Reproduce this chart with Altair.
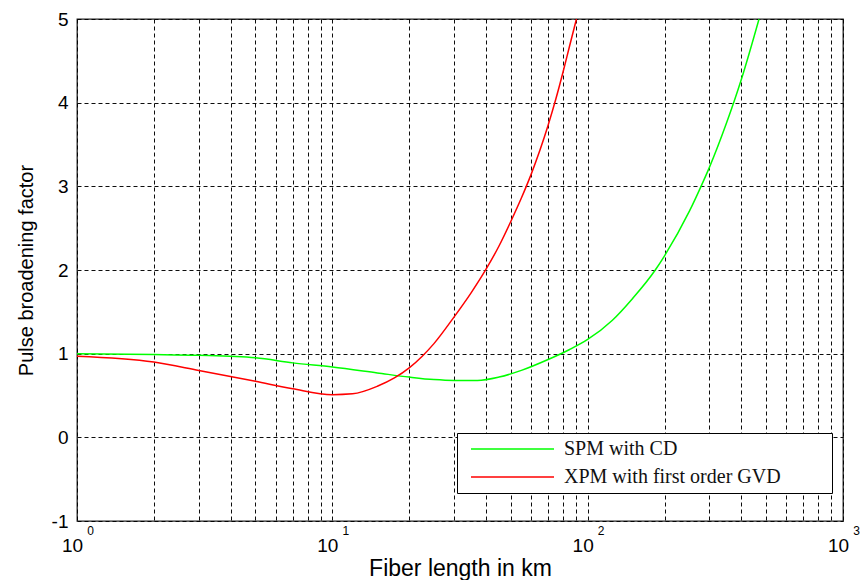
import altair as alt
import pandas as pd

# SPM with CD (green)
spm_x = [1, 2, 3, 5, 7, 10, 15, 20, 25, 30, 37, 45, 55, 70, 85, 100, 125, 150, 184, 200, 250, 278, 300, 350, 375, 400, 469]
spm_y = [1.0, 0.99, 0.98, 0.95, 0.89, 0.84, 0.77, 0.72, 0.69, 0.68, 0.68, 0.72, 0.8, 0.93, 1.05, 1.17, 1.4, 1.66, 2.0, 2.17, 2.7, 3.0, 3.23, 3.76, 4.02, 4.28, 5.0]

# XPM with first order GVD (red)
xpm_x = [1, 2, 3, 5, 7, 10, 12, 15, 17.5, 20, 22.5, 25, 30, 35, 40, 45, 50, 55, 60, 65, 70, 75, 80, 85, 90.4]
xpm_y = [0.97, 0.9, 0.8, 0.67, 0.58, 0.51, 0.52, 0.61, 0.71, 0.83, 0.97, 1.12, 1.44, 1.73, 2.01, 2.29, 2.58, 2.86, 3.14, 3.43, 3.73, 4.04, 4.36, 4.68, 5.0]

series_names = ["SPM with CD", "XPM with first order GVD"]
series_colors = ["#00ff00", "#ff0000"]

x_ticks = [m * 10 ** k for k in range(3) for m in range(1, 10)] + [1000]
x_decades = [1, 10, 100, 1000]
y_ticks = [-1, 0, 1, 2, 3, 4, 5]

df = pd.concat([
    pd.DataFrame({"x": spm_x, "y": spm_y, "series": series_names[0]}),
    pd.DataFrame({"x": xpm_x, "y": xpm_y, "series": series_names[1]}),
])

xscale = alt.Scale(type="log", domain=[1, 1000], nice=False)
yscale = alt.Scale(domain=[-1, 5], nice=False)

main_x_axis = alt.Axis(
    values=x_ticks,
    labelExpr="(datum.value == 1 || datum.value == 10 || datum.value == 100 || datum.value == 1000) ? '10' : ''",
    labelOverlap=False, labelFlush=False,
    labelFont="Liberation Sans", labelFontSize=19, labelColor="#000",
    labelOffset=-5, labelPadding=15, labelBaseline="top",
    ticks=False, domain=False,
    grid=True, gridColor="#000", gridDash=[4, 3], gridWidth=1, gridOpacity=0.95,
    title="Fiber length in km", titleFont="Liberation Sans", titleFontSize=23,
    titleFontWeight="normal", titleColor="#000", titlePadding=2,
    orient="bottom",
)

exp_x_axis = alt.Axis(
    values=x_decades,
    labelExpr="format(log(datum.value) / log(10), '.0f')",
    labelOverlap=False, labelFlush=False,
    labelFont="Liberation Sans", labelFontSize=12, labelColor="#000",
    labelOffset=13, labelPadding=4, labelBaseline="top",
    ticks=False, domain=False, grid=False, title=None, orient="bottom",
)

y_axis = alt.Axis(
    values=y_ticks,
    labelExpr="datum.value < 0 ? '-' + format(abs(datum.value), 'd') : format(datum.value, 'd')",
    labelFont="Liberation Sans", labelFontSize=19, labelColor="#000",
    labelPadding=9, ticks=False, domain=False,
    grid=True, gridColor="#000", gridDash=[4, 3], gridWidth=1, gridOpacity=0.95,
    title="Pulse broadening factor", titleFont="Liberation Sans", titleFontSize=20,
    titleFontWeight="normal", titleColor="#000", titlePadding=15,
)

# trailing no-break spaces (kept by a zero-width space) widen the legend box
pad_suffix = "\\u00a0" * 9 + "\\u200b"

lines = alt.Chart(df).mark_line(strokeWidth=1.5, clip=True, interpolate="monotone").encode(
    x=alt.X("x:Q", scale=xscale, axis=main_x_axis),
    y=alt.Y("y:Q", scale=yscale, axis=y_axis),
    color=alt.Color(
        "series:N",
        scale=alt.Scale(domain=series_names, range=series_colors),
        legend=alt.Legend(
            title=None, orient="none", legendX=380, legendY=414,
            symbolType="M-0.25,0L10.125,0", symbolSize=256, symbolStrokeWidth=1.5,
            labelFont="Liberation Serif", labelFontSize=20, labelColor="#111",
            labelOffset=81, rowPadding=8, padding=6,
            labelExpr="datum.label + '" + pad_suffix + "'",
            labelLimit=0,
            strokeColor="#000", fillColor="#fff", cornerRadius=0,
        ),
    ),
)

exp_layer = alt.Chart(df).mark_line(opacity=0).encode(
    x=alt.X("x:Q", scale=xscale, axis=exp_x_axis),
    y=alt.Y("y:Q", scale=yscale, axis=y_axis),
)

chart = alt.layer(lines, exp_layer).resolve_scale(x="shared").resolve_axis(x="independent").properties(
    width=766, height=502,
    autosize=alt.AutoSizeParams(type="none"),
    padding={"left": 77, "top": 19, "right": 20, "bottom": 59},
    background="#ffffff",
).configure_view(stroke="#222", strokeWidth=1.3)

chart.save("out.html", embed_options={"renderer": "svg", "actions": False})
